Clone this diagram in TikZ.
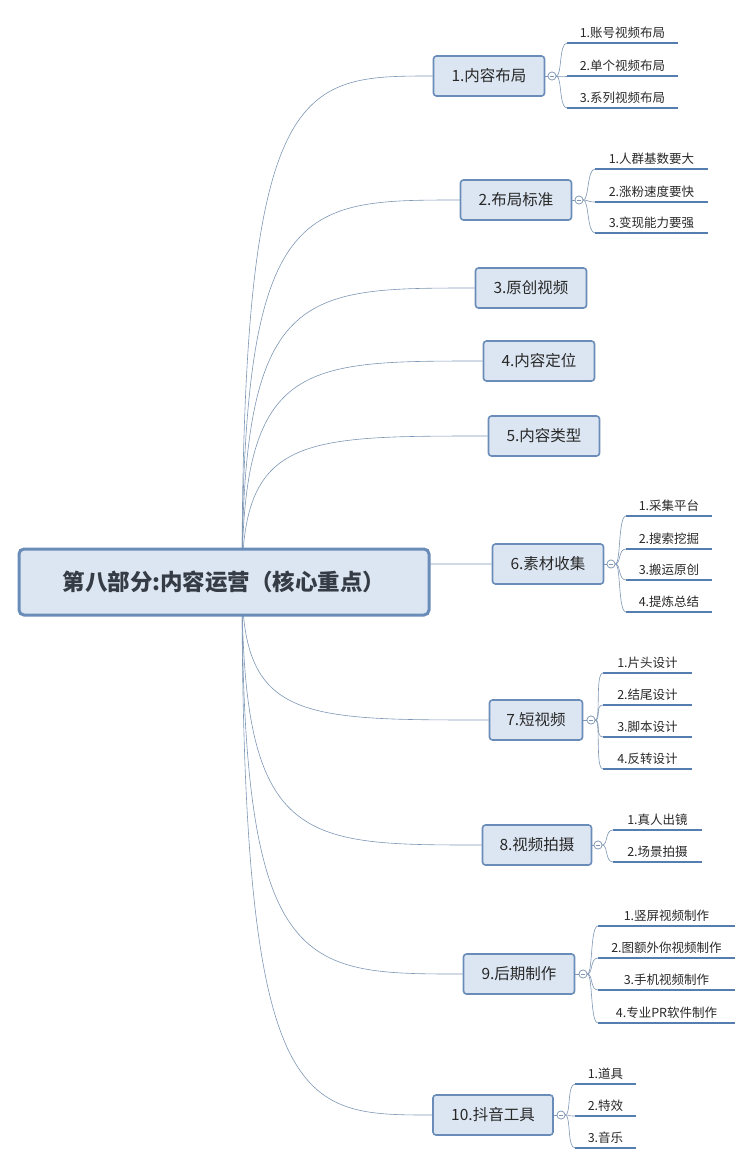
\documentclass[tikz,border=0pt]{standalone}
\usepackage{fontspec}
\setmainfont{Noto Sans CJK SC}
\usepackage{tikz}
\usetikzlibrary{backgrounds}
\definecolor{boxfill}{RGB}{220, 230, 242}
\definecolor{boxline}{RGB}{105, 140, 185}
\definecolor{linkc}{RGB}{125, 150, 180}
\definecolor{uline}{RGB}{85, 125, 175}
\definecolor{txt}{RGB}{40, 40, 40}

\tikzset{
  topic/.style={draw=boxline, fill=boxfill, line width=1.6pt, rounded corners=3pt,
    minimum height=40pt, minimum width=111pt, inner xsep=6pt, font=\fontsize{15.5}{18}\selectfont, text=txt},
  link/.style={draw=linkc, line width=0.6pt},
  knob/.style={circle, draw=linkc, fill=white, line width=0.6pt, inner sep=0pt, minimum size=8pt,
    path picture={\draw[linkc] ([xshift=-2pt]path picture bounding box.center) -- ([xshift=2pt]path picture bounding box.center);}},
  kidtext/.style={font=\fontsize{12.5}{14}\selectfont, text=txt, inner sep=2pt, anchor=south},
  underline/.style={draw=uline, line width=2.2pt}
}

% #1 topic name, #2 knob x, #3 knob y, #4 left x, #5 right x, #6 list of y/text
\newcommand{\subtopics}[6]{%
  \node[knob] (#1k) at (#2,#3) {};
  \draw[link] (#1.east) -- (#1k);
  \foreach \uy/\t [count=\k] in {#6} {
    \coordinate (#1u\k) at (#4,\uy);
    \draw[underline] (#1u\k) -- (#5,\uy);
    \node[kidtext] (#1t\k) at ({(#4+#5)/2},\uy-2) {\t};
    \begin{scope}[on background layer]
      \draw[link] (#1k.east) .. controls (#2+10,#3) and (#4-8,\uy) .. (#1u\k);
    \end{scope}
  }
  \node[knob] at (#1k) {};
}

\begin{document}
\begin{tikzpicture}[x=1pt, y=-1pt]
\useasboundingbox (0,0) rectangle (753,1165);

\node[draw=boxline, fill=boxfill, line width=3pt, rounded corners=5pt, minimum width=410pt,
  minimum height=66pt, font=\fontsize{22.5}{26}\selectfont\bfseries, text=txt!80!boxline]
  (root) at (224,582) {第八部分:内容运营（核心重点）};
\coordinate (hub) at (242,582);

\foreach \n/\x/\y/\w/\t in {m1/489/76/111/1.内容布局, m2/516/200/111/2.布局标准, m3/531/288/111/3.原创视频,
    m4/539/361/111/4.内容定位, m5/544/436/111/5.内容类型, m6/548/564/111/6.素材收集, m7/536/720/93/7.短视频,
    m8/537/845/109/8.视频拍摄, m9/519/974/111/9.后期制作, m10/493/1115/120/10.抖音工具} {
  \node[topic, minimum width=\w] (\n) at (\x,\y) {\t};
  \begin{scope}[on background layer]
    \draw[link] (hub) .. controls (242,\y) and (300,\y) .. (\n.west);
  \end{scope}
}

\subtopics{m1}{552}{76}{567}{678}{43/1.账号视频布局, 76/2.单个视频布局, 108/3.系列视频布局}
\subtopics{m2}{579}{200}{595}{708}{169/1.人群基数要大, 202/2.涨粉速度要快, 233/3.变现能力要强}
\subtopics{m6}{611}{564}{626}{712}{516/1.采集平台, 549/2.搜索挖掘, 580/3.搬运原创, 612/4.提炼总结}
\subtopics{m7}{591}{720}{603}{692}{673/1.片头设计, 705/2.结尾设计, 737/3.脚本设计, 769/4.反转设计}
\subtopics{m8}{598}{845}{613}{702}{830/1.真人出镜, 862/2.场景拍摄}
\subtopics{m9}{583}{974}{598}{735}{926/1.竖屏视频制作, 958/2.图额外你视频制作, 990/3.手机视频制作, 1023/4.专业PR软件制作}
\subtopics{m10}{561}{1115}{575}{636}{1084/1.道具, 1116/2.特效, 1148/3.音乐}
\end{tikzpicture}
\end{document}
